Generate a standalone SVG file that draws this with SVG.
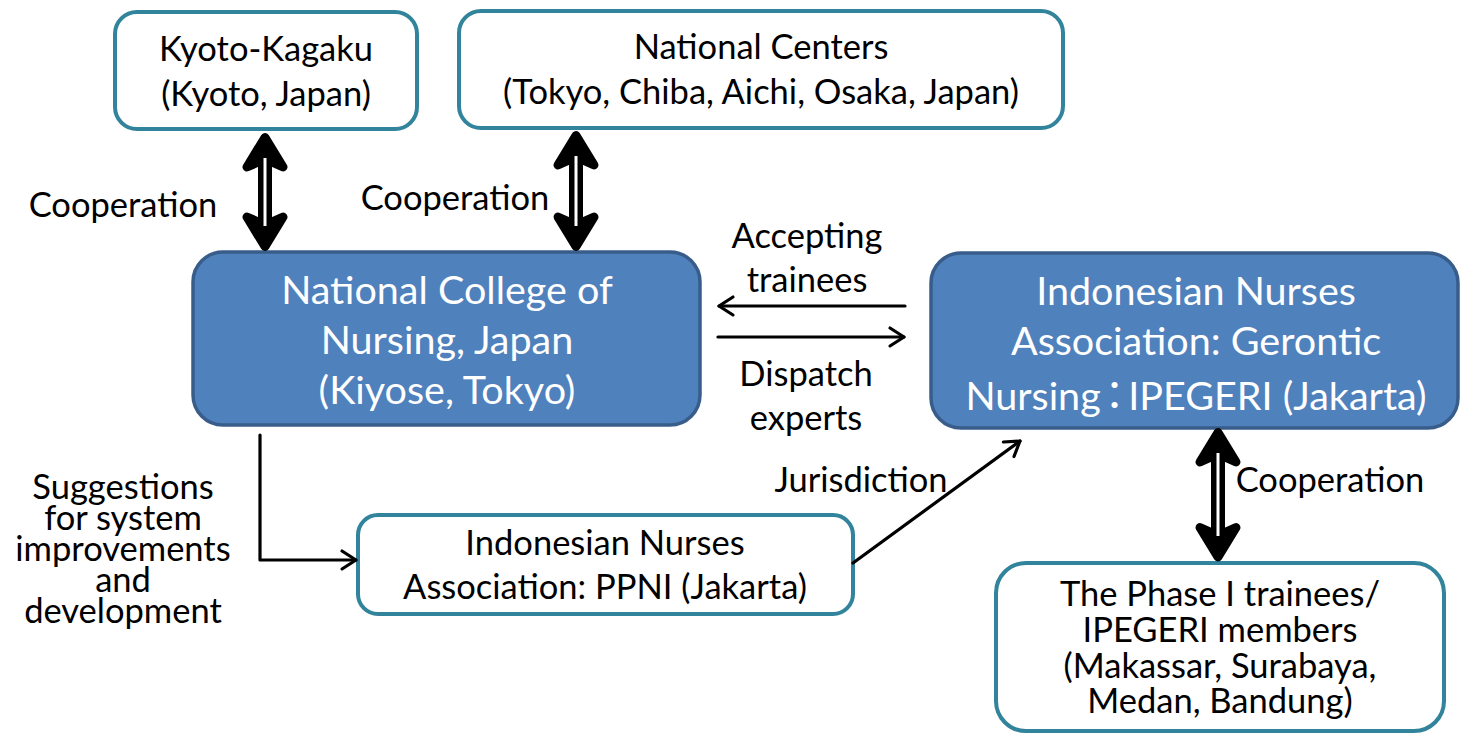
<svg xmlns="http://www.w3.org/2000/svg" width="1460" height="733" viewBox="0 0 1460 733">
<defs>
<style>
.t{font-family:Lato,"Liberation Sans","Noto Sans CJK JP",sans-serif;fill:#000;text-anchor:middle;font-size:34.5px}
.w{font-family:Lato,"Liberation Sans","Noto Sans CJK JP",sans-serif;fill:#fff;text-anchor:middle;font-size:39.5px}
.wb{fill:#fff;stroke:#31849b;stroke-width:4}
.bb{fill:#4f81bd;stroke:#385d8a;stroke-width:3.5}
.ln{fill:none;stroke:#000;stroke-width:3.2;stroke-linecap:round;stroke-linejoin:round}
.hd{fill:#000;stroke:#000;stroke-width:9;stroke-linejoin:round;stroke-linecap:round}
.sh{stroke:#000;stroke-width:14}
.wl{stroke:#fff;stroke-width:3}
</style>
<marker id="ah" markerUnits="userSpaceOnUse" markerWidth="30" markerHeight="30" viewBox="-20 -15 30 30" refX="0" refY="0" orient="auto">
<path d="M-14,-9 L0,0 L-14,9" fill="none" stroke="#000" stroke-width="3.2" stroke-linecap="round" stroke-linejoin="round"/>
</marker>
</defs>
<rect width="1460" height="733" fill="#fff"/>

<g id="kyoto">
<rect class="wb" x="115" y="12" width="302" height="117" rx="22"/>
<text class="t" x="266" y="61">Kyoto-Kagaku</text>
<text class="t" x="266" y="106">(Kyoto, Japan)</text>
</g>

<g id="centers">
<rect class="wb" x="459" y="11" width="604" height="117" rx="22"/>
<text class="t" x="761" y="59">National Centers</text>
<text class="t" x="761" y="104">(Tokyo, Chiba, Aichi, Osaka, Japan)</text>
</g>

<g id="college">
<rect class="bb" x="193" y="252" width="507" height="173" rx="30"/>
<text class="w" x="447" y="304">National College of</text>
<text class="w" x="447" y="354">Nursing, Japan</text>
<text class="w" x="447" y="404">(Kiyose, Tokyo)</text>
</g>

<g id="ipegeri">
<rect class="bb" x="931" y="253" width="527" height="175" rx="30"/>
<text class="w" x="1196" y="305">Indonesian Nurses</text>
<text class="w" x="1196" y="355">Association: Gerontic</text>
<text class="w" x="1196" y="410">Nursing<tspan dx="-6">：</tspan><tspan dx="-6">IPEGERI (Jakarta)</tspan></text>
</g>

<g id="ppni">
<rect class="wb" x="358" y="515" width="495" height="99" rx="20"/>
<text class="t" x="605" y="555">Indonesian Nurses</text>
<text class="t" x="605" y="599">Association: PPNI (Jakarta)</text>
</g>

<g id="members">
<rect class="wb" x="996" y="563" width="448" height="168" rx="30"/>
<text class="t" x="1220" y="606">The Phase I trainees/</text>
<text class="t" x="1220" y="642">IPEGERI members</text>
<text class="t" x="1220" y="678">(Makassar, Surabaya,</text>
<text class="t" x="1220" y="713">Medan, Bandung)</text>
</g>

<g id="connectors">
<g>
<line class="sh" x1="265" y1="153" x2="265" y2="231"/>
<path class="hd" d="M265,137.5 L283,167 L265,159 L247,167 Z"/>
<path class="hd" d="M265,246.5 L283,217 L265,225 L247,217 Z"/>
<line class="wl" x1="265" y1="158" x2="265" y2="226"/>
</g>
<g>
<line class="sh" x1="576" y1="151" x2="576" y2="231"/>
<path class="hd" d="M576,135.5 L594,165 L576,157 L558,165 Z"/>
<path class="hd" d="M576,246.5 L594,217 L576,225 L558,217 Z"/>
<line class="wl" x1="576" y1="156" x2="576" y2="226"/>
</g>
<g>
<line class="sh" x1="1218" y1="448" x2="1218" y2="541"/>
<path class="hd" d="M1218,432.5 L1236,462 L1218,454 L1200,462 Z"/>
<path class="hd" d="M1218,557 L1236,527.5 L1218,535.5 L1200,527.5 Z"/>
<line class="wl" x1="1218" y1="453" x2="1218" y2="536"/>
</g>
<line class="ln" x1="905" y1="306" x2="719" y2="306" marker-end="url(#ah)"/>
<line class="ln" x1="718" y1="337" x2="904" y2="337" marker-end="url(#ah)"/>
<path class="ln" d="M260,435 L260,560 L356,560" marker-end="url(#ah)"/>
<line class="ln" x1="853" y1="563" x2="1020" y2="441" marker-end="url(#ah)"/>
</g>

<g id="labels">
<text class="t" x="123" y="217">Cooperation</text>
<text class="t" x="455" y="210">Cooperation</text>
<text class="t" x="807" y="248">Accepting</text>
<text class="t" x="807" y="292">trainees</text>
<text class="t" x="806" y="386">Dispatch</text>
<text class="t" x="806" y="430">experts</text>
<text class="t" x="861" y="492">Jurisdiction</text>
<text class="t" x="1330" y="492">Cooperation</text>
<text class="t" x="123" y="499">Suggestions</text>
<text class="t" x="123" y="530">for system</text>
<text class="t" x="123" y="561">improvements</text>
<text class="t" x="123" y="592">and</text>
<text class="t" x="123" y="623">development</text>
</g>
</svg>
